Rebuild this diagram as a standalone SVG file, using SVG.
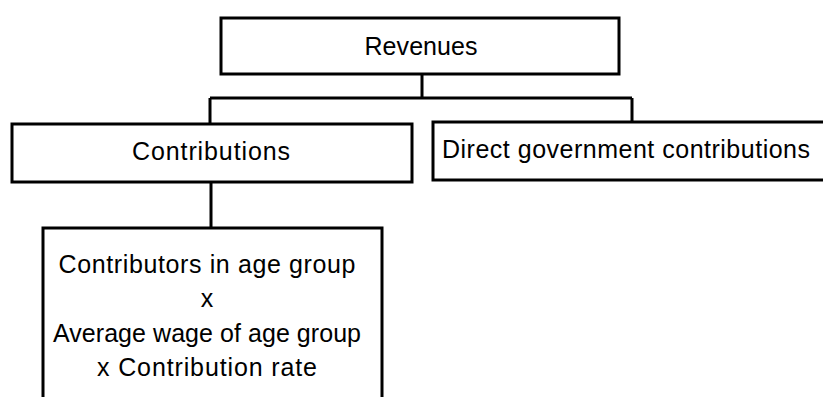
<svg xmlns="http://www.w3.org/2000/svg" width="823" height="397" viewBox="0 0 823 397">
<style>
.box{fill:#fff;stroke:#000;stroke-width:3}
.lbl{font-family:"Liberation Sans",Arial,sans-serif;font-size:25px;fill:#000;text-anchor:middle}
.con{fill:none;stroke:#000;stroke-width:3}
</style>
<rect width="823" height="397" fill="#fff"/>
<g id="connectors">
<path class="con" d="M422,74 V98 M210,98 H632 M210,98 V124 M632,98 V122 M211,182 V228"/>
</g>
<g id="revenues">
<rect class="box" x="221" y="18" width="398" height="56"/>
<text class="lbl" x="421" y="55" textLength="113" lengthAdjust="spacing">Revenues</text>
</g>
<g id="contributions">
<rect class="box" x="12" y="124" width="400" height="58"/>
<text class="lbl" x="211" y="160" textLength="158" lengthAdjust="spacing">Contributions</text>
</g>
<g id="direct">
<rect class="box" x="433" y="122" width="400" height="58"/>
<text class="lbl" x="626" y="158" textLength="368" lengthAdjust="spacing">Direct government contributions</text>
</g>
<g id="formula">
<rect class="box" x="43" y="228" width="339" height="180"/>
<text class="lbl" x="207" y="273" textLength="297" lengthAdjust="spacing">Contributors in age group</text>
<text class="lbl" x="207" y="307">x</text>
<text class="lbl" x="207" y="342" textLength="308" lengthAdjust="spacing">Average wage of age group</text>
<text class="lbl" x="207" y="376" textLength="220" lengthAdjust="spacing">x Contribution rate</text>
</g>
</svg>
